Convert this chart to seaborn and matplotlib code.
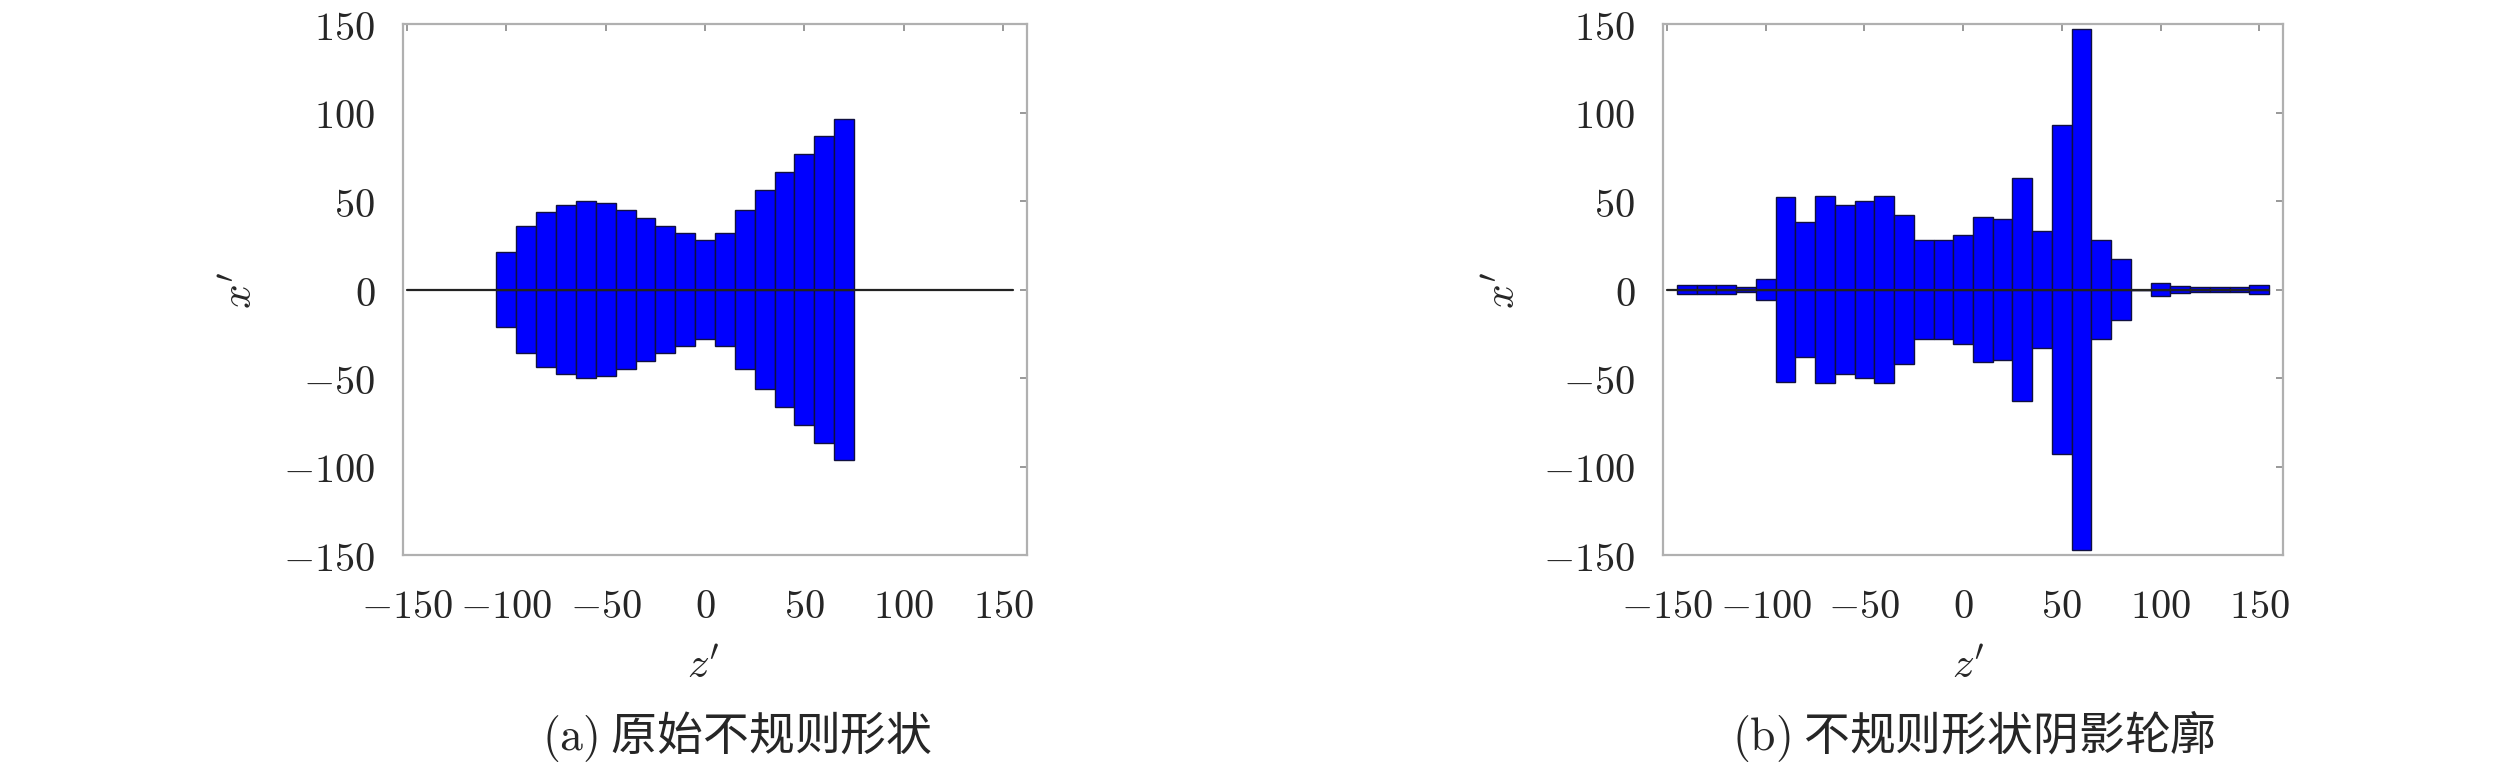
import numpy as np
import pandas as pd
import matplotlib
matplotlib.use("Agg")
import matplotlib.pyplot as plt
import seaborn as sns

# ---------------- data ----------------
z_a = [-100, -90, -80, -70, -60, -50, -40, -30, -20, -10, 0, 10, 20, 30, 40, 50, 60, 70]
h_a = [21, 36, 44, 48, 50, 49, 45, 40.5, 36, 32, 28, 32, 45, 56, 66.5, 76.5, 87, 96.5]

z_b = [-140, -130, -120, -110, -100, -90, -80, -70, -60, -50, -40, -30, -20, -10, 0,
       10, 20, 30, 40, 50, 60, 70, 80, 90, 100, 110, 120, 130, 140, 150]
h_b = [2.5, 2.5, 2.5, 1.5, 6, 52, 38, 53, 48, 50, 53, 42, 28, 28, 31,
       41, 40, 63, 33, 93, 147, 28, 17, 0, 3.5, 2, 1.5, 1.5, 1.5, 2.5]

line_z = [-150, 155]
line_y = [0, 0]

ticks = [-150, -100, -50, 0, 50, 100, 150]
xlabel = "$z'$"
ylabel = "$x'$"
captions = ["$\\mathrm{(a)}$ 原始不规则形状", "$\\mathrm{(b)}$ 不规则形状阴影轮廓"]

# ---------------- style ----------------
sns.set_style("white")
plt.rcParams["mathtext.fontset"] = "cm"
plt.rcParams["font.family"] = ["Noto Sans CJK SC", "DejaVu Sans"]

W, H = 2520, 765
fig = plt.figure(figsize=(W / 100, H / 100), dpi=100)

ax_boxes = [(403, 24, 1027, 555), (1663, 24, 2283, 555)]
datasets = [(z_a, h_a), (z_b, h_b)]

for i, ((x0, y0, x1, y1), (zz, hh)) in enumerate(zip(ax_boxes, datasets)):
    ax = fig.add_axes([x0 / W, 1 - y1 / H, (x1 - x0) / W, (y1 - y0) / H])
    df = pd.DataFrame({"z": zz, "h": hh, "nh": [-v for v in hh]})
    for col in ["h", "nh"]:
        sns.barplot(data=df, x="z", y=col, native_scale=True, width=1.0,
                    color="#0000ff", saturation=1, edgecolor="#101040",
                    linewidth=1.0, errorbar=None, ax=ax, zorder=2)
    sns.lineplot(x=line_z, y=line_y, color="#222222", linewidth=1.6, ax=ax,
                 zorder=3)
    ax.set_xlim(-152, 162)
    ax.set_ylim(-150, 150)
    ax.set_xticks(ticks)
    ax.set_xticklabels([f"${t}$" for t in ticks])
    ax.set_yticks(ticks)
    ax.set_yticklabels([f"${t}$" for t in ticks])
    ax.set_xlabel("")
    ax.set_ylabel("")
    ax.tick_params(axis="both", direction="in", length=5, width=1.2,
                   color="#888888", top=True, right=True, labelsize=29)
    ax.tick_params(axis="y", pad=20)
    ax.tick_params(axis="x", pad=22)
    for sp in ax.spines.values():
        sp.set_color("#b0b0b0")
        sp.set_linewidth(1.6)
    ax.grid(False)

# axis labels and captions
fig.text(240 / W, 1 - 290 / H, ylabel, fontsize=31, rotation=90, ha="center", va="center")
fig.text(1503 / W, 1 - 290 / H, ylabel, fontsize=31, rotation=90, ha="center", va="center")
fig.text(703 / W, 1 - 666 / H, xlabel, fontsize=31, ha="center", va="center")
fig.text(1968 / W, 1 - 666 / H, xlabel, fontsize=31, ha="center", va="center")
fig.text(737 / W, 1 - 736 / H, captions[0], fontsize=33, ha="center", va="center")
fig.text(1974 / W, 1 - 736 / H, captions[1], fontsize=33, ha="center", va="center")

fig.savefig("out.png", dpi=100)
